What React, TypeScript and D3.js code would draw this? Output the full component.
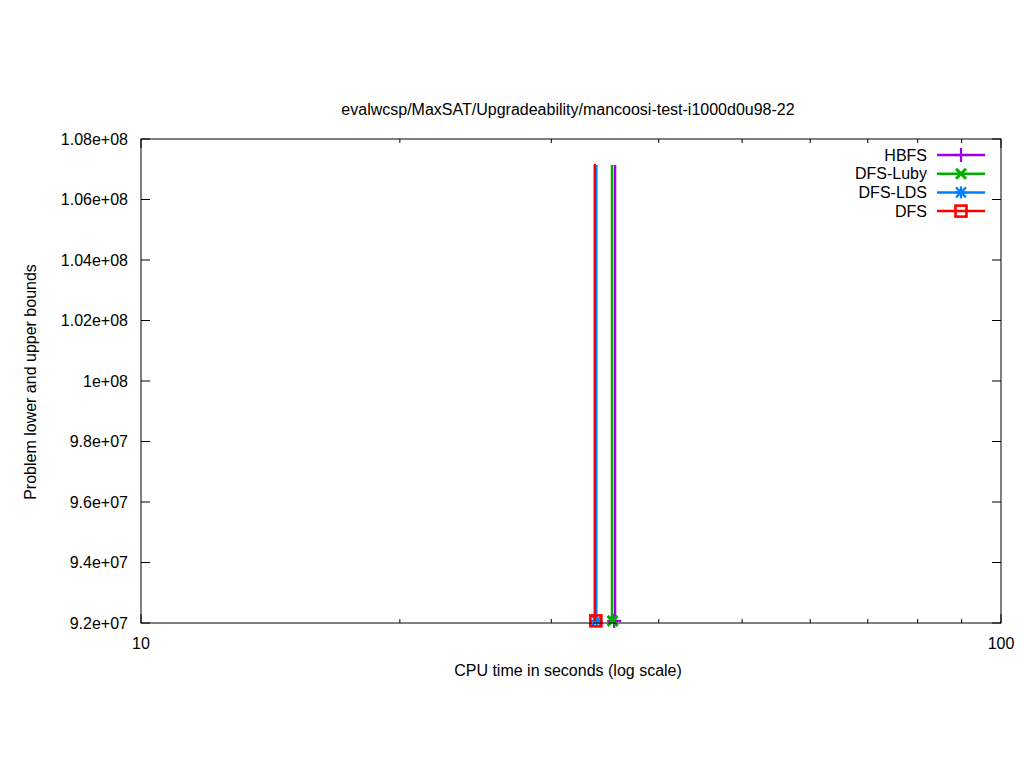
import React, { useEffect } from "react";
import * as d3 from "d3";

const title = "evalwcsp/MaxSAT/Upgradeability/mancoosi-test-i1000d0u98-22";
const xLabel = "CPU time in seconds (log scale)";
const yLabel = "Problem lower and upper bounds";

const seriesNames = ["HBFS", "DFS-Luby", "DFS-LDS", "DFS"];
const seriesColors = ["#a000f0", "#00b000", "#0080ff", "#ff0000"];
const seriesMarkers = ["plus", "cross", "star", "square"];
// upper bound step line: [time, value]
const upperTimes = [[35.58, 35.58], [35.29, 35.29], [33.84, 33.84], [33.62, 33.7, 33.7]];
const upperValues = [[1.0714e8, 9.207e7], [1.0714e8, 9.207e7], [1.0714e8, 9.207e7], [1.0714e8, 1.0714e8, 9.207e7]];
// lower bound points
const lowerTimes = [35.5, 35.35, 33.88, 33.8];
const lowerValues = [9.207e7, 9.207e7, 9.207e7, 9.207e7];

const yTicks = [9.2e7, 9.4e7, 9.6e7, 9.8e7, 1e8, 1.02e8, 1.04e8, 1.06e8, 1.08e8];
const yTickLabels = ["9.2e+07", "9.4e+07", "9.6e+07", "9.8e+07", "1e+08", "1.02e+08", "1.04e+08", "1.06e+08", "1.08e+08"];
const xMajor = [10, 100];
const xMajorLabels = ["10", "100"];
const xMinor = [20, 30, 40, 50, 60, 70, 80, 90];

const W = 1024, H = 768;
const L = 141, R = 1001, T = 139, B = 623;

function marker(type: string, cx: number, cy: number, color: string, key: string) {
  const s = 7;
  const sw = 2.2;
  if (type === "plus") {
    return (
      <g key={key} stroke={color} strokeWidth={sw}>
        <line x1={cx - s} y1={cy} x2={cx + s} y2={cy} />
        <line x1={cx} y1={cy - s} x2={cx} y2={cy + s} />
      </g>
    );
  }
  if (type === "cross") {
    return (
      <g key={key} stroke={color} strokeWidth={3}>
        <line x1={cx - 5} y1={cy - 5} x2={cx + 5} y2={cy + 5} />
        <line x1={cx - 5} y1={cy + 5} x2={cx + 5} y2={cy - 5} />
      </g>
    );
  }
  if (type === "star") {
    return (
      <g key={key} stroke={color} strokeWidth={sw}>
        <line x1={cx - 6} y1={cy} x2={cx + 6} y2={cy} />
        <line x1={cx} y1={cy - 6} x2={cx} y2={cy + 6} />
        <line x1={cx - 5} y1={cy - 5} x2={cx + 5} y2={cy + 5} />
        <line x1={cx - 5} y1={cy + 5} x2={cx + 5} y2={cy - 5} />
      </g>
    );
  }
  return (
    <rect key={key} x={cx - 5.5} y={cy - 5.5} width={11} height={11} fill="none" stroke={color} strokeWidth={2.6} />
  );
}

export default function App() {
  useEffect(() => {
    document.body.style.margin = "0";
  }, []);
  const x = d3.scaleLog().domain([10, 100]).range([L, R]);
  const y = d3.scaleLinear().domain([9.2e7, 1.08e8]).range([B, T]);
  const line = d3.line<[number, number]>().x((d) => x(d[0])).y((d) => y(d[1]));
  const font = "'Liberation Sans', Arial, sans-serif";
  const fs = 16;
  return (
    <svg width={W} height={H} style={{ display: "block", fontFamily: font, background: "#fff" }}>
      <rect x={0} y={0} width={W} height={H} fill="#fff" />
      {yTicks.map((v, i) => (
        <g key={"y" + i}>
          <line x1={L} x2={L + 9} y1={y(v)} y2={y(v)} stroke="#000" />
          <line x1={R} x2={R - 9} y1={y(v)} y2={y(v)} stroke="#000" />
          <text x={128} y={y(v)} dy="0.35em" textAnchor="end" fontSize={fs}>{yTickLabels[i]}</text>
        </g>
      ))}
      {xMajor.map((v, i) => (
        <g key={"xm" + i}>
          <line x1={x(v)} x2={x(v)} y1={B} y2={B - 9} stroke="#000" />
          <line x1={x(v)} x2={x(v)} y1={T} y2={T + 9} stroke="#000" />
          <text x={x(v)} y={649} textAnchor="middle" fontSize={fs}>{xMajorLabels[i]}</text>
        </g>
      ))}
      {xMinor.map((v, i) => (
        <g key={"xn" + i}>
          <line x1={x(v)} x2={x(v)} y1={B} y2={B - 4} stroke="#000" />
          <line x1={x(v)} x2={x(v)} y1={T} y2={T + 4} stroke="#000" />
        </g>
      ))}
      {seriesNames.map((n, i) => {
        const pts: [number, number][] = upperTimes[i].map((t, j) => [t, upperValues[i][j]]);
        return (
          <g key={"s" + i}>
            <path d={line(pts) || ""} fill="none" stroke={seriesColors[i]} strokeWidth={2.5} />
            {marker(seriesMarkers[i], x(lowerTimes[i]), y(lowerValues[i]), seriesColors[i], "m" + i)}
          </g>
        );
      })}
      <rect x={L} y={T} width={R - L} height={B - T} fill="none" stroke="#000" />
      {seriesNames.map((n, i) => {
        const ly = 155 + i * 18.7;
        return (
          <g key={"l" + i}>
            <text x={927} y={ly} dy="0.35em" textAnchor="end" fontSize={fs}>{n}</text>
            <line x1={937} x2={985} y1={ly} y2={ly} stroke={seriesColors[i]} strokeWidth={2.5} />
            {marker(seriesMarkers[i], 961, ly, seriesColors[i], "lm" + i)}
          </g>
        );
      })}
      <text x={568} y={115} textAnchor="middle" fontSize={fs}>{title}</text>
      <text x={568} y={676} textAnchor="middle" fontSize={fs}>{xLabel}</text>
      <text transform={`translate(36,382) rotate(-90)`} textAnchor="middle" fontSize={fs}>{yLabel}</text>
    </svg>
  );
}
